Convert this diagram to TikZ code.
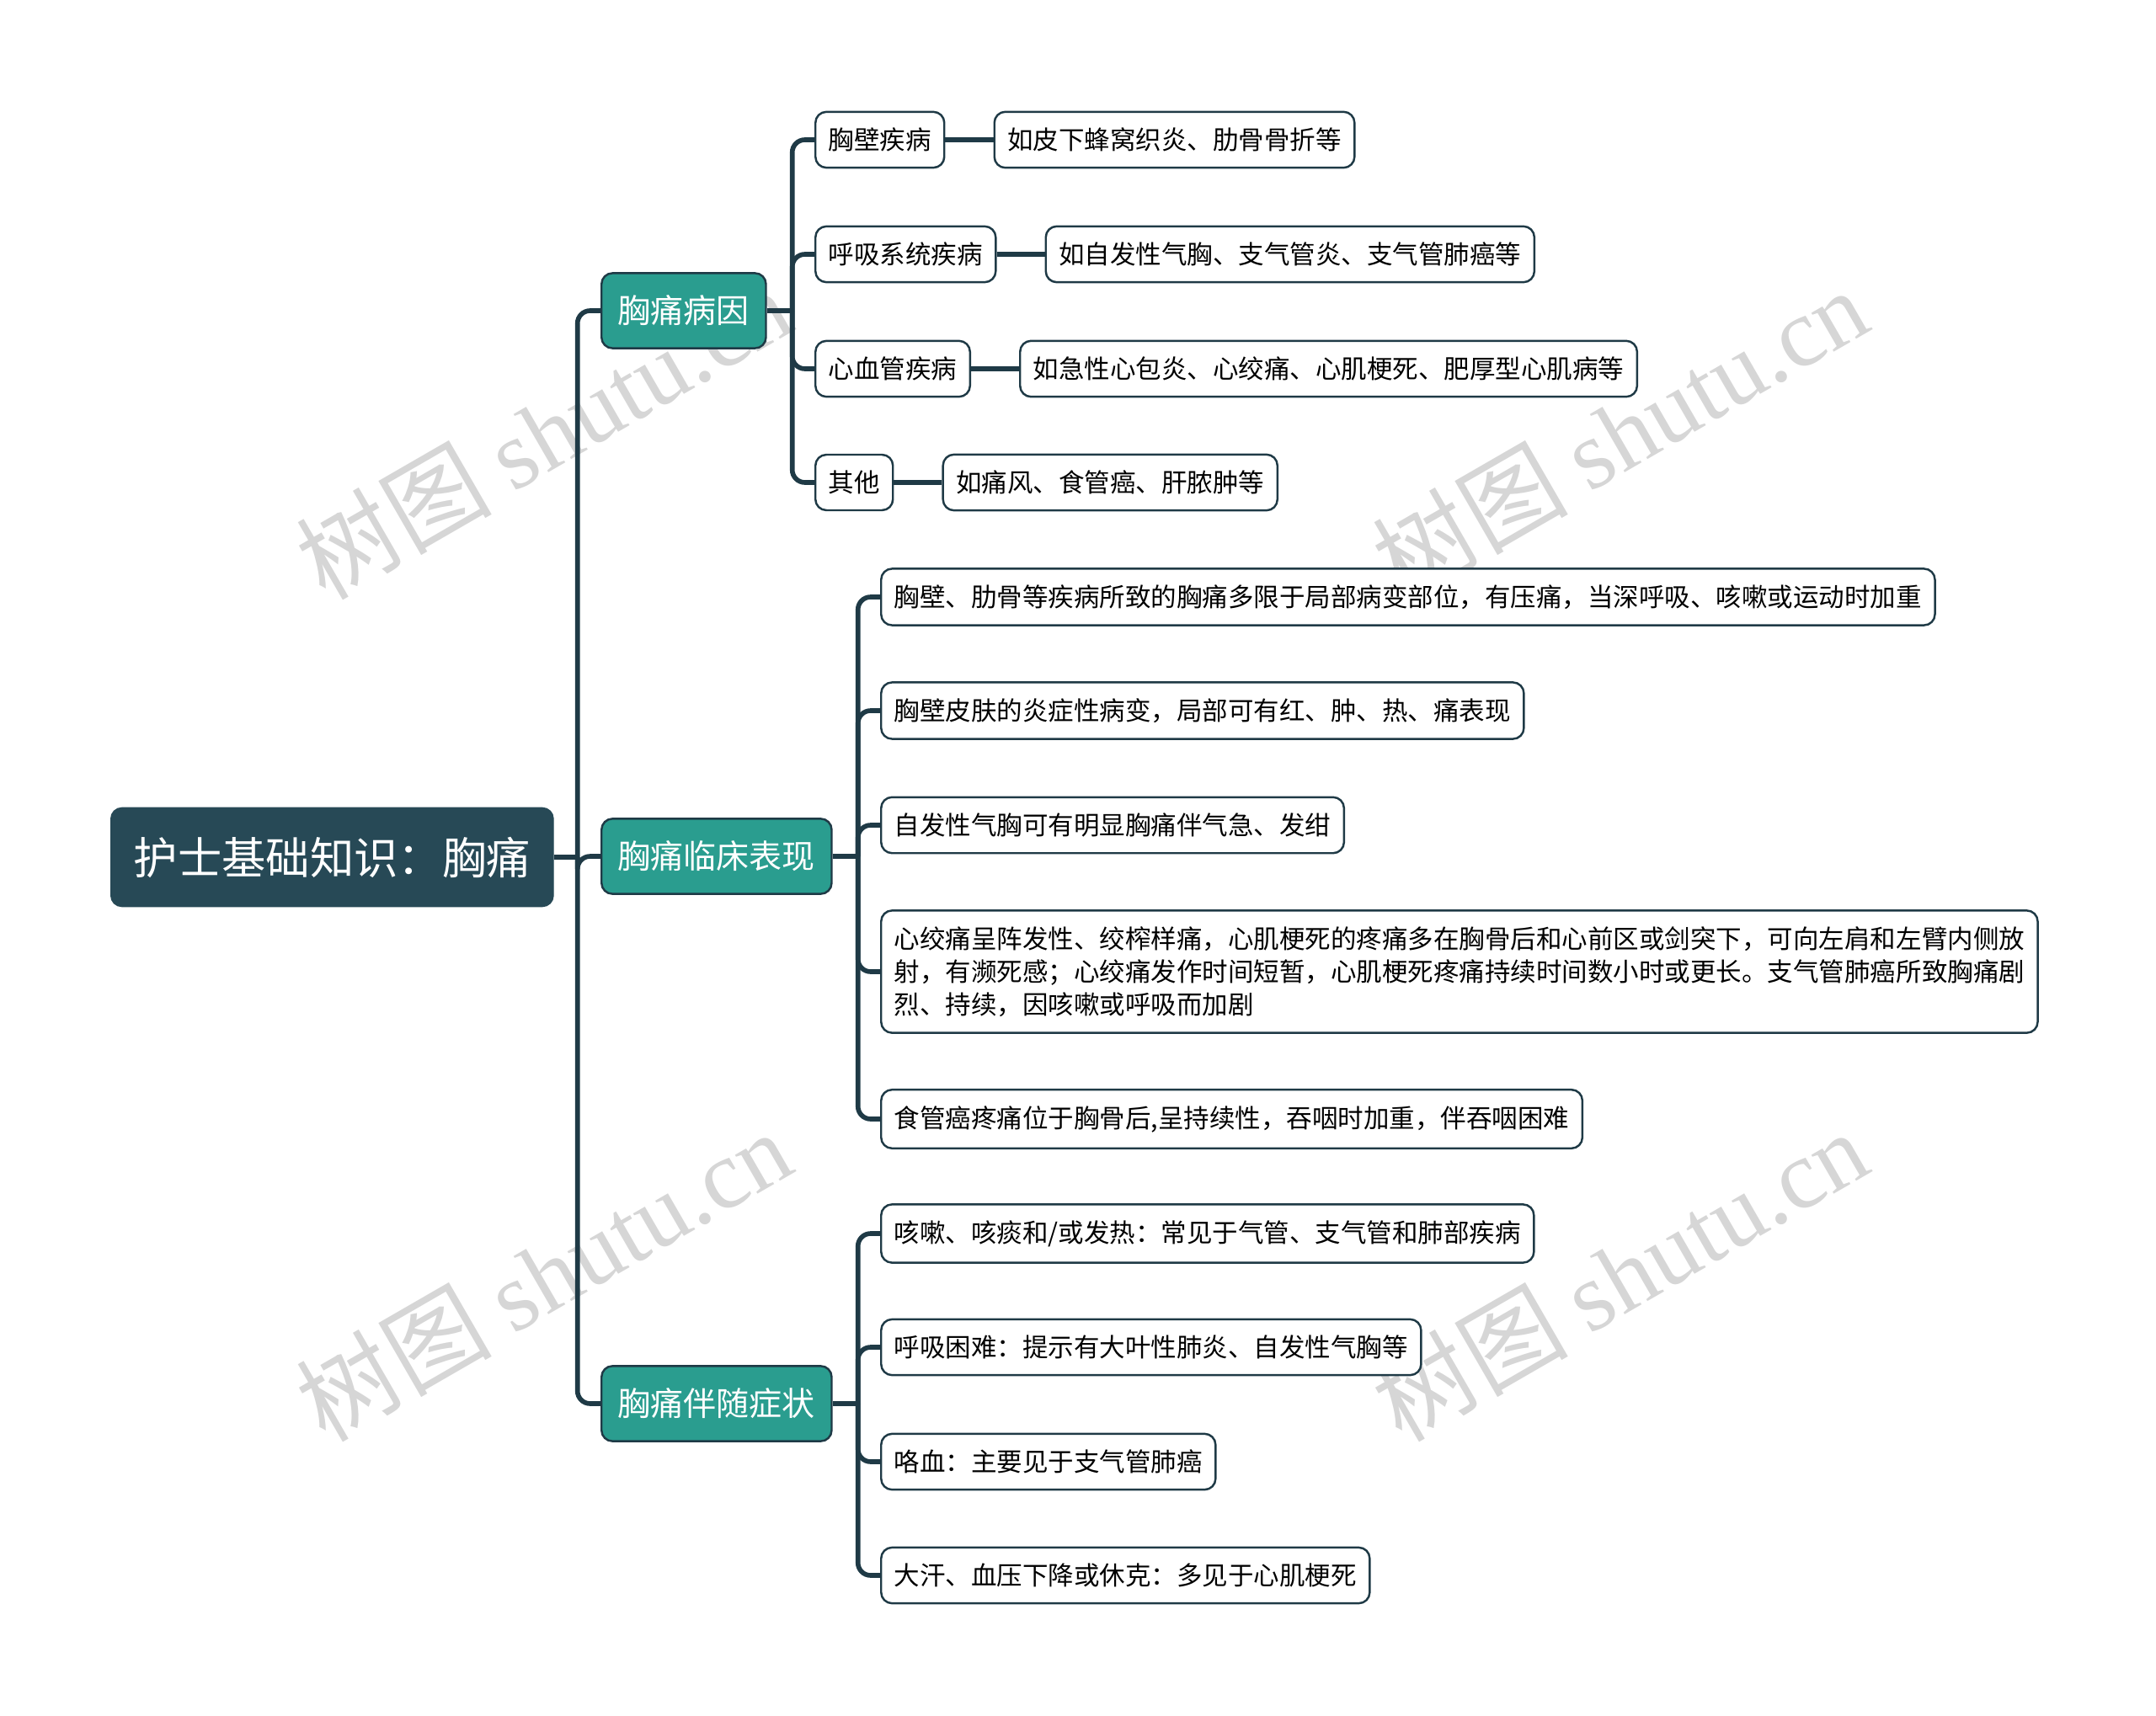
\documentclass[tikz,border=0pt]{standalone}
\usepackage{fontspec}
\usepackage{tikz}
\usetikzlibrary{positioning}
\newfontfamily\cjk{Noto Sans CJK SC}
\newfontfamily\wmlatin{Liberation Serif}
\definecolor{rootfill}{HTML}{274956}
\definecolor{topicfill}{HTML}{2A9D8F}
\definecolor{linecol}{HTML}{1F3A46}
\definecolor{wmgray}{HTML}{D6D6D6}

\begin{document}
\begin{tikzpicture}
    \tikzstyle{rootbox} = [rectangle, rounded corners=0.13cm, fill=rootfill, draw=rootfill, text=white, anchor=west, inner xsep=0.27cm, inner ysep=0.343cm, font={\cjk\fontsize{14.9pt}{17pt}\selectfont}]
    \tikzstyle{topic} = [rectangle, rounded corners=0.13cm, fill=topicfill, draw=linecol, line width=0.7pt, text=white, anchor=west, inner xsep=0.196cm, inner ysep=0.265cm, font={\cjk\fontsize{11.1pt}{13pt}\selectfont}]
    \tikzstyle{subbox} = [rectangle, rounded corners=0.13cm, fill=white, draw=linecol, line width=0.7pt, text=black, anchor=west, align=left, inner xsep=0.155cm, inner ysep=0.19cm, font={\cjk\fontsize{8.68pt}{11.1pt}\selectfont}]
    \tikzstyle{link} = [draw=linecol, line width=1.6pt, rounded corners=0.15cm]
    \tikzstyle{wm} = [text=wmgray, rotate=30, font={\fontsize{33pt}{36pt}\selectfont}]
    \useasboundingbox (0,0) rectangle (25.6,-20.38);

    % watermarks
    \node[wm] (w1) at (6.45,-5.14) {\cjk 树图 \wmlatin shutu.cn};
    \node[wm] (w2) at (19.23,-5.14) {\cjk 树图 \wmlatin shutu.cn};
    \node[wm] (w3) at (6.45,-15.14) {\cjk 树图 \wmlatin shutu.cn};
    \node[wm] (w4) at (19.23,-15.14) {\cjk 树图 \wmlatin shutu.cn};

    \node[rootbox] (root) at (1.31,-10.18) {护士基础知识：胸痛};
    \node[topic] (c1) at (7.13,-3.69) {胸痛病因};
    \node[topic] (c2) at (7.13,-10.17) {胸痛临床表现};
    \node[topic] (c3) at (7.13,-16.67) {胸痛伴随症状};

    % causes
    \node[subbox] (a1) at (9.67,-1.66) {胸壁疾病};
    \node[subbox] (a2) at (9.67,-3.02) {呼吸系统疾病};
    \node[subbox] (a3) at (9.67,-4.38) {心血管疾病};
    \node[subbox] (a4) at (9.67,-5.73) {其他};
    \node[subbox, right=0.57cm of a1] (e1) {如皮下蜂窝织炎、肋骨骨折等};
    \node[subbox, right=0.57cm of a2] (e2) {如自发性气胸、支气管炎、支气管肺癌等};
    \node[subbox, right=0.57cm of a3] (e3) {如急性心包炎、心绞痛、心肌梗死、肥厚型心肌病等};
    \node[subbox, right=0.57cm of a4] (e4) {如痛风、食管癌、肝脓肿等};

    % clinical signs
    \node[subbox] (b1) at (10.45,-7.09) {胸壁、肋骨等疾病所致的胸痛多限于局部病变部位，有压痛，当深呼吸、咳嗽或运动时加重};
    \node[subbox] (b2) at (10.45,-8.44) {胸壁皮肤的炎症性病变，局部可有红、肿、热、痛表现};
    \node[subbox] (b3) at (10.45,-9.80) {自发性气胸可有明显胸痛伴气急、发绀};
    \node[subbox] (b4) at (10.45,-11.54) {心绞痛呈阵发性、绞榨样痛，心肌梗死的疼痛多在胸骨后和心前区或剑突下，可向左肩和左臂内侧放\\射，有濒死感；心绞痛发作时间短暂，心肌梗死疼痛持续时间数小时或更长。支气管肺癌所致胸痛剧\\烈、持续，因咳嗽或呼吸而加剧};
    \node[subbox] (b5) at (10.45,-13.29) {食管癌疼痛位于胸骨后,呈持续性，吞咽时加重，伴吞咽困难};

    % accompanying symptoms
    \node[subbox] (d1) at (10.45,-14.65) {咳嗽、咳痰和/或发热：常见于气管、支气管和肺部疾病};
    \node[subbox] (d2) at (10.45,-16.00) {呼吸困难：提示有大叶性肺炎、自发性气胸等};
    \node[subbox] (d3) at (10.45,-17.36) {咯血：主要见于支气管肺癌};
    \node[subbox] (d4) at (10.45,-18.71) {大汗、血压下降或休克：多见于心肌梗死};

    % connectors
    \draw[link] (root.east) -- ++(0.28,0) coordinate (j0);
    \foreach \n in {c1,c2,c3} \draw[link] (j0) |- (\n.west);
    \draw[link] (c1.east) -- ++(0.3,0) coordinate (j1);
    \foreach \n in {a1,a2,a3,a4} \draw[link] (j1) |- (\n.west);
    \draw[link] (c2.east) -- ++(0.3,0) coordinate (j2);
    \foreach \n in {b1,b2,b3,b4,b5} \draw[link] (j2) |- (\n.west);
    \draw[link] (c3.east) -- ++(0.3,0) coordinate (j3);
    \foreach \n in {d1,d2,d3,d4} \draw[link] (j3) |- (\n.west);
    \draw[link] (a1) -- (e1);
    \draw[link] (a2) -- (e2);
    \draw[link] (a3) -- (e3);
    \draw[link] (a4) -- (e4);
\end{tikzpicture}
\end{document}
